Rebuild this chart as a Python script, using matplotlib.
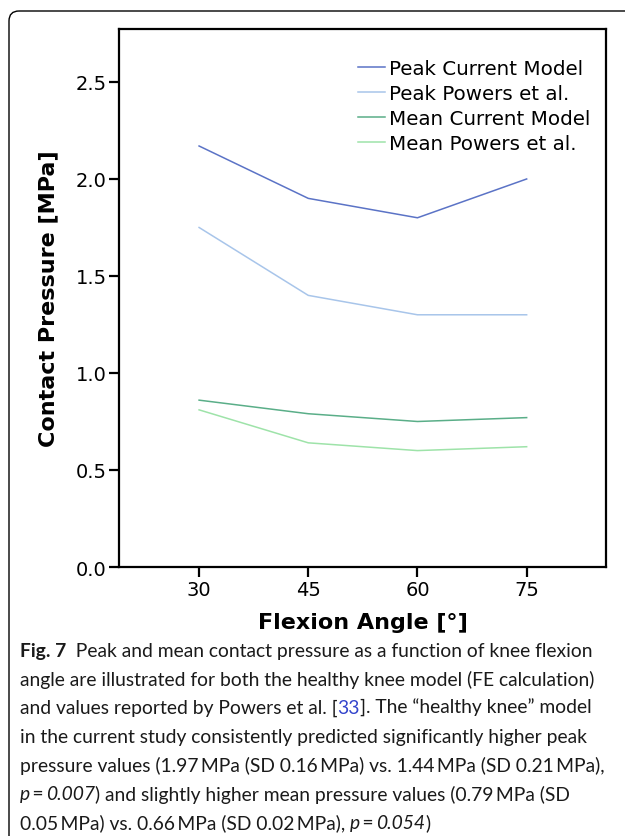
import matplotlib
matplotlib.use("Agg")
import matplotlib.pyplot as plt
from matplotlib.patches import FancyBboxPatch

# ---- data ----
angles = [30, 45, 60, 75]
peak_current = [2.17, 1.90, 1.80, 2.00]
peak_powers = [1.75, 1.40, 1.30, 1.30]
mean_current = [0.86, 0.79, 0.75, 0.77]
mean_powers = [0.81, 0.64, 0.60, 0.62]
series_labels = ["Peak Current Model", "Peak Powers et al.",
                 "Mean Current Model", "Mean Powers et al."]
series_colors = ["#5b73c6", "#a8c5ea", "#5aae88", "#9ee3a9"]
y_ticks = [0.0, 0.5, 1.0, 1.5, 2.0, 2.5]

W, H = 625, 837
fig = plt.figure(figsize=(W / 100, H / 100), dpi=100)

# main axes
ax = fig.add_axes([119 / W, 1 - 568 / H, (606 - 119) / W, (568 - 30) / H])
for vals, lab, col in zip([peak_current, peak_powers, mean_current, mean_powers],
                          series_labels, series_colors):
    ax.plot(angles, vals, color=col, lw=1.1, label=lab)
ax.set_xlim(19.0, 85.9)
ax.set_ylim(0, 2.773)
ax.set_xticks(angles)
ax.set_yticks(y_ticks)
ax.set_yticklabels([f"{v:.1f}" for v in y_ticks])
for s in ax.spines.values():
    s.set_linewidth(1.6)
ax.tick_params(axis="both", direction="out", length=7, width=1.6,
               labelsize=14, pad=2, colors="black")
ax.set_xlabel("Flexion Angle [°]", fontsize=16, fontweight="bold", labelpad=10)
ax.set_ylabel("Contact Pressure [MPa]", fontsize=16, fontweight="bold", labelpad=12)
leg = ax.legend(loc="upper right", frameon=False, fontsize=14.3, handlelength=1.4,
                handletextpad=0.2, labelspacing=0.3, borderaxespad=0.0,
                bbox_to_anchor=(0.985, 0.959))

# overlay for border and caption (1 unit = 1 pixel)
ov = fig.add_axes([0, 0, 1, 1], facecolor="none")
ov.set_xlim(0, W)
ov.set_ylim(H, 0)
ov.axis("off")
ov.add_patch(FancyBboxPatch((9, 12), 660, 900,
                            boxstyle="round,pad=0,rounding_size=10",
                            fc="none", ec="black", lw=1.0))

renderer = fig.canvas.get_renderer()
cap_font = "Lato"
cap_size = 13.9

def draw_line(y, segments, x0=20):
    x = x0
    for txt, style in segments:
        kw = dict(fontsize=cap_size, family=cap_font, va="center", ha="left",
                  color="#1a1a1a")
        if style == "b":
            kw["fontweight"] = "bold"
        elif style == "i":
            kw["fontstyle"] = "italic"
        elif style == "link":
            kw["color"] = "#3344cc"
        t = ov.text(x, y, txt, **kw)
        bb = t.get_window_extent(renderer)
        x = bb.x1

lines = [
    [("Fig. 7", "b"), ("  Peak and mean contact pressure as a function of knee flexion", "")],
    [("angle are illustrated for both the healthy knee model (FE calculation)", "")],
    [("and values reported by Powers et al. [", ""), ("33", "link"),
     ("]. The \u201chealthy knee\u201d model", "")],
    [("in the current study consistently predicted significantly higher peak", "")],
    [("pressure values (1.97\u2009MPa (SD 0.16\u2009MPa) vs. 1.44\u2009MPa (SD 0.21\u2009MPa),", "")],
    [("p", "i"), ("\u2009=\u2009", ""), ("0.007", "i"),
     (") and slightly higher mean pressure values (0.79\u2009MPa (SD", "")],
    [("0.05\u2009MPa) vs. 0.66\u2009MPa (SD 0.02\u2009MPa), ", ""), ("p", "i"),
     ("\u2009=\u2009", ""), ("0.054", "i"), (")", "")],
]
y0, dy = 651, 28.7
for i, segs in enumerate(lines):
    draw_line(y0 + i * dy, segs)

fig.savefig("out.png", dpi=100)
